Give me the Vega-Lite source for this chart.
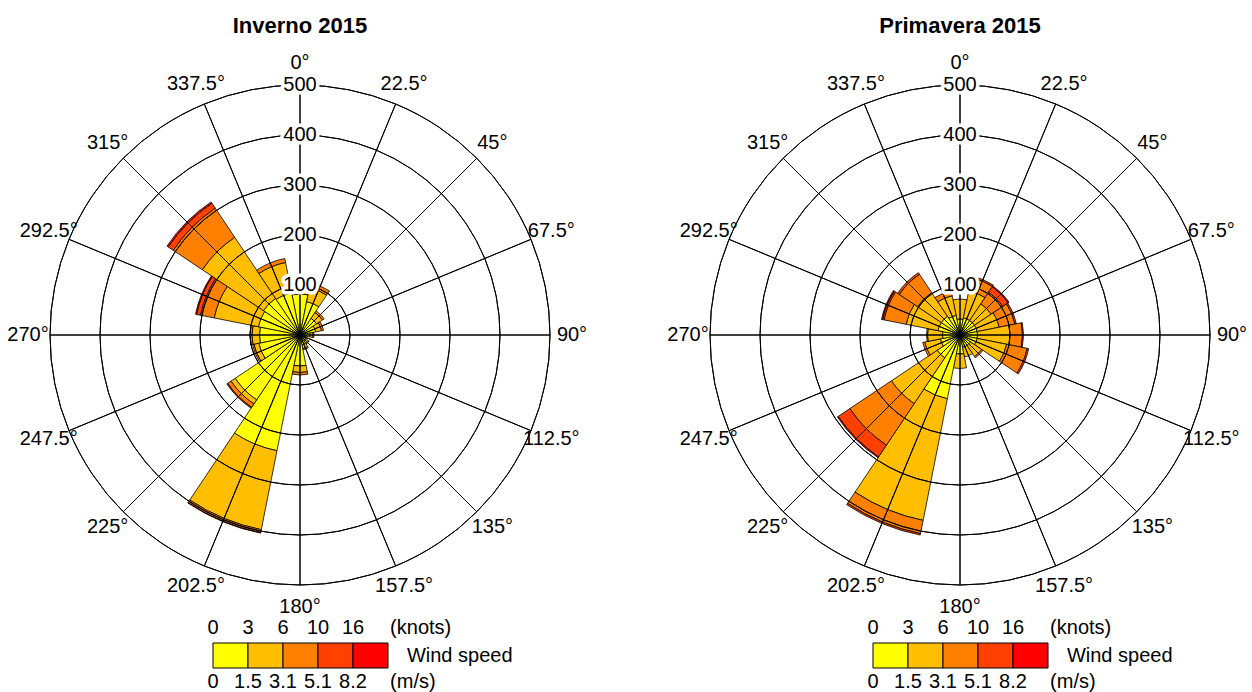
{
  "$schema": "https://vega.github.io/schema/vega-lite/v6.json",
  "width": 1252,
  "height": 692,
  "autosize": {"type": "none", "contains": "padding"},
  "padding": 0,
  "background": "white",
  "config": {
    "font": "Liberation Sans",
    "view": {"stroke": null},
    "text": {"fontSize": 20, "color": "black"}
  },
  "datasets": {
    "sectors": [
      {"d": 0, "lo": -11.25, "hi": 11.25}, {"d": 22.5, "lo": 11.25, "hi": 33.75},
      {"d": 45, "lo": 33.75, "hi": 56.25}, {"d": 67.5, "lo": 56.25, "hi": 78.75},
      {"d": 90, "lo": 78.75, "hi": 101.25}, {"d": 112.5, "lo": 101.25, "hi": 123.75},
      {"d": 135, "lo": 123.75, "hi": 146.25}, {"d": 157.5, "lo": 146.25, "hi": 168.75},
      {"d": 180, "lo": 168.75, "hi": 191.25}, {"d": 202.5, "lo": 191.25, "hi": 213.75},
      {"d": 225, "lo": 213.75, "hi": 236.25}, {"d": 247.5, "lo": 236.25, "hi": 258.75},
      {"d": 270, "lo": 258.75, "hi": 281.25}, {"d": 292.5, "lo": 281.25, "hi": 303.75},
      {"d": 315, "lo": 303.75, "hi": 326.25}, {"d": 337.5, "lo": 326.25, "hi": 348.75}
    ],
    "inverno": [
      {"d": 0, "c": 1, "n": 82}, {"d": 0, "c": 2, "n": 20}, {"d": 0, "c": 3, "n": 5},
      {"d": 22.5, "c": 1, "n": 68}, {"d": 22.5, "c": 2, "n": 28}, {"d": 22.5, "c": 3, "n": 10},
      {"d": 45, "c": 1, "n": 40}, {"d": 45, "c": 2, "n": 14}, {"d": 45, "c": 3, "n": 4},
      {"d": 67.5, "c": 1, "n": 32}, {"d": 67.5, "c": 2, "n": 12}, {"d": 67.5, "c": 3, "n": 4},
      {"d": 90, "c": 1, "n": 20}, {"d": 90, "c": 2, "n": 6}, {"d": 90, "c": 3, "n": 2},
      {"d": 112.5, "c": 1, "n": 10}, {"d": 112.5, "c": 2, "n": 4},
      {"d": 135, "c": 1, "n": 15}, {"d": 135, "c": 2, "n": 6}, {"d": 135, "c": 3, "n": 1},
      {"d": 157.5, "c": 1, "n": 20}, {"d": 157.5, "c": 2, "n": 8}, {"d": 157.5, "c": 3, "n": 2},
      {"d": 180, "c": 1, "n": 62}, {"d": 180, "c": 2, "n": 13}, {"d": 180, "c": 3, "n": 5},
      {"d": 202.5, "c": 1, "n": 236}, {"d": 202.5, "c": 2, "n": 161}, {"d": 202.5, "c": 3, "n": 6}, {"d": 202.5, "c": 4, "n": 1},
      {"d": 225, "c": 1, "n": 156}, {"d": 225, "c": 2, "n": 10}, {"d": 225, "c": 3, "n": 8}, {"d": 225, "c": 4, "n": 2},
      {"d": 247.5, "c": 1, "n": 84}, {"d": 247.5, "c": 2, "n": 10}, {"d": 247.5, "c": 3, "n": 3},
      {"d": 270, "c": 1, "n": 81}, {"d": 270, "c": 2, "n": 15}, {"d": 270, "c": 3, "n": 4},
      {"d": 292.5, "c": 1, "n": 85}, {"d": 292.5, "c": 2, "n": 90}, {"d": 292.5, "c": 3, "n": 28}, {"d": 292.5, "c": 4, "n": 8}, {"d": 292.5, "c": 5, "n": 2},
      {"d": 315, "c": 1, "n": 88}, {"d": 315, "c": 2, "n": 147}, {"d": 315, "c": 3, "n": 70}, {"d": 315, "c": 4, "n": 12}, {"d": 315, "c": 5, "n": 3},
      {"d": 337.5, "c": 1, "n": 86}, {"d": 337.5, "c": 2, "n": 62}, {"d": 337.5, "c": 3, "n": 8}
    ],
    "primavera": [
      {"d": 0, "c": 1, "n": 32}, {"d": 0, "c": 2, "n": 40},
      {"d": 22.5, "c": 1, "n": 35}, {"d": 22.5, "c": 2, "n": 55}, {"d": 22.5, "c": 3, "n": 27}, {"d": 22.5, "c": 4, "n": 3},
      {"d": 45, "c": 1, "n": 35}, {"d": 45, "c": 2, "n": 40}, {"d": 45, "c": 3, "n": 28}, {"d": 45, "c": 4, "n": 13}, {"d": 45, "c": 5, "n": 2},
      {"d": 67.5, "c": 1, "n": 35}, {"d": 67.5, "c": 2, "n": 45}, {"d": 67.5, "c": 3, "n": 32}, {"d": 67.5, "c": 4, "n": 3},
      {"d": 90, "c": 1, "n": 35}, {"d": 90, "c": 2, "n": 65}, {"d": 90, "c": 3, "n": 25}, {"d": 90, "c": 4, "n": 2},
      {"d": 112.5, "c": 1, "n": 35}, {"d": 112.5, "c": 2, "n": 60}, {"d": 112.5, "c": 3, "n": 42}, {"d": 112.5, "c": 4, "n": 3},
      {"d": 135, "c": 1, "n": 25}, {"d": 135, "c": 2, "n": 27}, {"d": 135, "c": 3, "n": 3},
      {"d": 157.5, "c": 1, "n": 25}, {"d": 157.5, "c": 2, "n": 20},
      {"d": 180, "c": 1, "n": 38}, {"d": 180, "c": 2, "n": 29},
      {"d": 202.5, "c": 1, "n": 130}, {"d": 202.5, "c": 2, "n": 248}, {"d": 202.5, "c": 3, "n": 27}, {"d": 202.5, "c": 4, "n": 3},
      {"d": 225, "c": 1, "n": 55}, {"d": 225, "c": 2, "n": 110}, {"d": 225, "c": 3, "n": 100}, {"d": 225, "c": 4, "n": 28}, {"d": 225, "c": 5, "n": 2},
      {"d": 247.5, "c": 1, "n": 40}, {"d": 247.5, "c": 2, "n": 32}, {"d": 247.5, "c": 3, "n": 4},
      {"d": 270, "c": 1, "n": 35}, {"d": 270, "c": 2, "n": 30}, {"d": 270, "c": 3, "n": 2},
      {"d": 292.5, "c": 1, "n": 45}, {"d": 292.5, "c": 2, "n": 65}, {"d": 292.5, "c": 3, "n": 45}, {"d": 292.5, "c": 4, "n": 3}, {"d": 292.5, "c": 5, "n": 2},
      {"d": 315, "c": 1, "n": 45}, {"d": 315, "c": 2, "n": 57}, {"d": 315, "c": 3, "n": 44}, {"d": 315, "c": 4, "n": 4},
      {"d": 337.5, "c": 1, "n": 40}, {"d": 337.5, "c": 2, "n": 40}, {"d": 337.5, "c": 3, "n": 10}
    ],
    "rings": [{"r": 100}, {"r": 200}, {"r": 300}, {"r": 400}, {"r": 500}],
    "spokes": [
      {"a": 0, "t": "0°"}, {"a": 22.5, "t": "22.5°"}, {"a": 45, "t": "45°"}, {"a": 67.5, "t": "67.5°"},
      {"a": 90, "t": "90°"}, {"a": 112.5, "t": "112.5°"}, {"a": 135, "t": "135°"}, {"a": 157.5, "t": "157.5°"},
      {"a": 180, "t": "180°"}, {"a": 202.5, "t": "202.5°"}, {"a": 225, "t": "225°"}, {"a": 247.5, "t": "247.5°"},
      {"a": 270, "t": "270°"}, {"a": 292.5, "t": "292.5°"}, {"a": 315, "t": "315°"}, {"a": 337.5, "t": "337.5°"}
    ],
    "legend": [
      {"c": 1, "lo": 0, "hi": 1, "kn": "0", "ms": "0"},
      {"c": 2, "lo": 1, "hi": 2, "kn": "3", "ms": "1.5"},
      {"c": 3, "lo": 2, "hi": 3, "kn": "6", "ms": "3.1"},
      {"c": 4, "lo": 3, "hi": 4, "kn": "10", "ms": "5.1"},
      {"c": 5, "lo": 4, "hi": 5, "kn": "16", "ms": "8.2"}
    ]
  },
  "resolve": {"scale": {"x": "independent"}},
  "layer": [
    {
      "layer": [
        {
          "data": {"name": "inverno"},
          "transform": [
            {"lookup": "d", "from": {"data": {"name": "sectors"}, "key": "d", "fields": ["lo", "hi"]}},
            {"stack": "n", "groupby": ["d"], "sort": [{"field": "c", "order": "ascending"}], "as": ["r0", "r1"]}
          ],
          "mark": {"type": "arc", "stroke": "black", "strokeWidth": 0.8},
          "encoding": {
            "x": {"datum": 0, "type": "quantitative", "axis": null, "scale": {"type": "linear", "domain": [-600, 1904], "nice": false, "zero": false}},
            "y": {"datum": 0, "type": "quantitative", "axis": null, "scale": {"type": "linear", "domain": [-714, 670], "nice": false, "zero": false}},
            "theta": {"field": "lo", "type": "quantitative", "stack": null, "scale": {"type": "linear", "domain": [0, 360], "range": [0, 6.283185307179586]}},
            "theta2": {"field": "hi"},
            "radius": {"field": "r1", "type": "quantitative", "stack": null, "scale": {"type": "linear", "domain": [0, 500], "range": [0, 250], "zero": true}},
            "radius2": {"field": "r0"},
            "color": {"field": "c", "type": "ordinal", "legend": null, "scale": {"domain": [1, 2, 3, 4, 5], "range": ["#FFFF00", "#FFBF00", "#FF8000", "#FF4000", "#FF0000"]}}
          }
        },
        {
          "data": {"name": "primavera"},
          "transform": [
            {"lookup": "d", "from": {"data": {"name": "sectors"}, "key": "d", "fields": ["lo", "hi"]}},
            {"stack": "n", "groupby": ["d"], "sort": [{"field": "c", "order": "ascending"}], "as": ["r0", "r1"]}
          ],
          "mark": {"type": "arc", "stroke": "black", "strokeWidth": 0.8},
          "encoding": {
            "x": {"datum": 1320, "type": "quantitative"},
            "y": {"datum": 0, "type": "quantitative"},
            "theta": {"field": "lo", "type": "quantitative", "stack": null},
            "theta2": {"field": "hi"},
            "radius": {"field": "r1", "type": "quantitative", "stack": null},
            "radius2": {"field": "r0"},
            "color": {"field": "c", "type": "ordinal", "legend": null}
          }
        },
        {
          "data": {"name": "rings"},
          "mark": {"type": "arc", "filled": false, "stroke": "black", "strokeWidth": 1},
          "encoding": {
            "x": {"datum": 0, "type": "quantitative"},
            "y": {"datum": 0, "type": "quantitative"},
            "theta": {"datum": 0, "type": "quantitative"},
            "theta2": {"datum": 360},
            "radius": {"field": "r", "type": "quantitative"},
            "radius2": {"field": "r"}
          }
        },
        {
          "data": {"name": "rings"},
          "mark": {"type": "arc", "filled": false, "stroke": "black", "strokeWidth": 1},
          "encoding": {
            "x": {"datum": 1320, "type": "quantitative"},
            "y": {"datum": 0, "type": "quantitative"},
            "theta": {"datum": 0, "type": "quantitative"},
            "theta2": {"datum": 360},
            "radius": {"field": "r", "type": "quantitative"},
            "radius2": {"field": "r"}
          }
        },
        {
          "data": {"name": "spokes"},
          "mark": {"type": "arc", "filled": false, "stroke": "black", "strokeWidth": 1},
          "encoding": {
            "x": {"datum": 0, "type": "quantitative"},
            "y": {"datum": 0, "type": "quantitative"},
            "theta": {"field": "a", "type": "quantitative"},
            "theta2": {"field": "a"},
            "radius": {"datum": 500, "type": "quantitative"},
            "radius2": {"datum": 0}
          }
        },
        {
          "data": {"name": "spokes"},
          "mark": {"type": "arc", "filled": false, "stroke": "black", "strokeWidth": 1},
          "encoding": {
            "x": {"datum": 1320, "type": "quantitative"},
            "y": {"datum": 0, "type": "quantitative"},
            "theta": {"field": "a", "type": "quantitative"},
            "theta2": {"field": "a"},
            "radius": {"datum": 500, "type": "quantitative"},
            "radius2": {"datum": 0}
          }
        },
        {
          "data": {"name": "rings"},
          "mark": {"type": "text", "stroke": "white", "strokeWidth": 7, "strokeJoin": "round", "fill": "white"},
          "encoding": {
            "x": {"datum": 0, "type": "quantitative"},
            "y": {"datum": 0, "type": "quantitative"},
            "theta": {"datum": 0, "type": "quantitative"},
            "radius": {"field": "r", "type": "quantitative"},
            "text": {"field": "r", "type": "quantitative"}
          }
        },
        {
          "data": {"name": "rings"},
          "mark": {"type": "text", "stroke": "white", "strokeWidth": 7, "strokeJoin": "round", "fill": "white"},
          "encoding": {
            "x": {"datum": 1320, "type": "quantitative"},
            "y": {"datum": 0, "type": "quantitative"},
            "theta": {"datum": 0, "type": "quantitative"},
            "radius": {"field": "r", "type": "quantitative"},
            "text": {"field": "r", "type": "quantitative"}
          }
        },
        {
          "data": {"name": "rings"},
          "mark": {"type": "text"},
          "encoding": {
            "x": {"datum": 0, "type": "quantitative"},
            "y": {"datum": 0, "type": "quantitative"},
            "theta": {"datum": 0, "type": "quantitative"},
            "radius": {"field": "r", "type": "quantitative"},
            "text": {"field": "r", "type": "quantitative"}
          }
        },
        {
          "data": {"name": "rings"},
          "mark": {"type": "text"},
          "encoding": {
            "x": {"datum": 1320, "type": "quantitative"},
            "y": {"datum": 0, "type": "quantitative"},
            "theta": {"datum": 0, "type": "quantitative"},
            "radius": {"field": "r", "type": "quantitative"},
            "text": {"field": "r", "type": "quantitative"}
          }
        },
        {
          "data": {"name": "spokes"},
          "mark": {"type": "text"},
          "encoding": {
            "x": {"datum": 0, "type": "quantitative"},
            "y": {"datum": 0, "type": "quantitative"},
            "theta": {"field": "a", "type": "quantitative"},
            "radius": {"datum": 544, "type": "quantitative"},
            "text": {"field": "t"}
          }
        },
        {
          "data": {"name": "spokes"},
          "mark": {"type": "text"},
          "encoding": {
            "x": {"datum": 1320, "type": "quantitative"},
            "y": {"datum": 0, "type": "quantitative"},
            "theta": {"field": "a", "type": "quantitative"},
            "radius": {"datum": 544, "type": "quantitative"},
            "text": {"field": "t"}
          }
        },
        {
          "data": {"values": [{"t": "Inverno 2015"}]},
          "mark": {"type": "text", "fontSize": 22, "fontWeight": "bold"},
          "encoding": {
            "x": {"datum": 0, "type": "quantitative"},
            "y": {"datum": 618, "type": "quantitative"},
            "text": {"field": "t"}
          }
        },
        {
          "data": {"values": [{"t": "Primavera 2015"}]},
          "mark": {"type": "text", "fontSize": 22, "fontWeight": "bold"},
          "encoding": {
            "x": {"datum": 1320, "type": "quantitative"},
            "y": {"datum": 618, "type": "quantitative"},
            "text": {"field": "t"}
          }
        }
      ]
    },
    {
      "data": {"name": "legend"},
      "layer": [
        {
          "mark": {"type": "rect", "stroke": "black", "strokeWidth": 1},
          "encoding": {
            "x": {"field": "lo", "type": "quantitative", "axis": null, "scale": {"domain": [0, 5], "range": [213, 388], "nice": false, "zero": false}},
            "x2": {"field": "hi"},
            "y": {"datum": -616, "type": "quantitative"},
            "y2": {"datum": -666},
            "color": {"field": "c", "type": "ordinal", "legend": null}
          }
        },
        {
          "mark": {"type": "text"},
          "encoding": {
            "x": {"field": "lo", "type": "quantitative"},
            "y": {"datum": -586, "type": "quantitative"},
            "text": {"field": "kn"}
          }
        },
        {
          "mark": {"type": "text"},
          "encoding": {
            "x": {"field": "lo", "type": "quantitative"},
            "y": {"datum": -693, "type": "quantitative"},
            "text": {"field": "ms"}
          }
        },
        {
          "data": {"values": [{"u": "(knots)"}]},
          "mark": {"type": "text", "align": "left"},
          "encoding": {"x": {"datum": 5.06, "type": "quantitative"}, "y": {"datum": -586, "type": "quantitative"}, "text": {"field": "u"}}
        },
        {
          "data": {"values": [{"u": "Wind speed"}]},
          "mark": {"type": "text", "align": "left"},
          "encoding": {"x": {"datum": 5.54, "type": "quantitative"}, "y": {"datum": -641, "type": "quantitative"}, "text": {"field": "u"}}
        },
        {
          "data": {"values": [{"u": "(m/s)"}]},
          "mark": {"type": "text", "align": "left"},
          "encoding": {"x": {"datum": 5.06, "type": "quantitative"}, "y": {"datum": -693, "type": "quantitative"}, "text": {"field": "u"}}
        }
      ]
    },
    {
      "data": {"name": "legend"},
      "layer": [
        {
          "mark": {"type": "rect", "stroke": "black", "strokeWidth": 1},
          "encoding": {
            "x": {"field": "lo", "type": "quantitative", "axis": null, "scale": {"domain": [0, 5], "range": [873, 1048], "nice": false, "zero": false}},
            "x2": {"field": "hi"},
            "y": {"datum": -616, "type": "quantitative"},
            "y2": {"datum": -666},
            "color": {"field": "c", "type": "ordinal", "legend": null}
          }
        },
        {
          "mark": {"type": "text"},
          "encoding": {
            "x": {"field": "lo", "type": "quantitative"},
            "y": {"datum": -586, "type": "quantitative"},
            "text": {"field": "kn"}
          }
        },
        {
          "mark": {"type": "text"},
          "encoding": {
            "x": {"field": "lo", "type": "quantitative"},
            "y": {"datum": -693, "type": "quantitative"},
            "text": {"field": "ms"}
          }
        },
        {
          "data": {"values": [{"u": "(knots)"}]},
          "mark": {"type": "text", "align": "left"},
          "encoding": {"x": {"datum": 5.06, "type": "quantitative"}, "y": {"datum": -586, "type": "quantitative"}, "text": {"field": "u"}}
        },
        {
          "data": {"values": [{"u": "Wind speed"}]},
          "mark": {"type": "text", "align": "left"},
          "encoding": {"x": {"datum": 5.54, "type": "quantitative"}, "y": {"datum": -641, "type": "quantitative"}, "text": {"field": "u"}}
        },
        {
          "data": {"values": [{"u": "(m/s)"}]},
          "mark": {"type": "text", "align": "left"},
          "encoding": {"x": {"datum": 5.06, "type": "quantitative"}, "y": {"datum": -693, "type": "quantitative"}, "text": {"field": "u"}}
        }
      ]
    }
  ]
}
